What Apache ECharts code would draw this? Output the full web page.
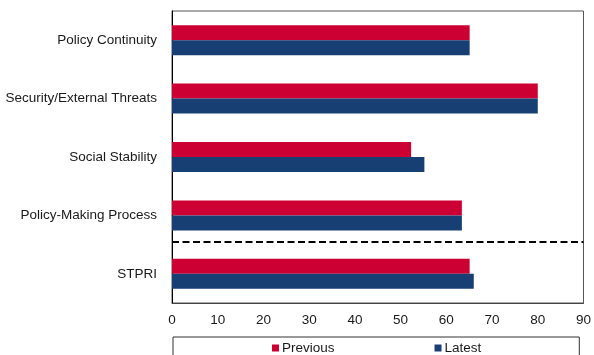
<!DOCTYPE html>
<html>
<head>
<meta charset="utf-8">
<style>
  html, body { margin: 0; padding: 0; background: #fff; }
  #chart { width: 594px; height: 355px; }
</style>
<script src="https://cdn.jsdelivr.net/npm/echarts@6/dist/echarts.min.js"></script>
</head>
<body>
<div id="chart"></div>
<script>
// Risk index components, top to bottom
const categories = [
  'Policy Continuity',
  'Security/External Threats',
  'Social Stability',
  'Policy-Making Process',
  'STPRI'
];
const previousValues = [65.1, 80.0, 52.3, 63.4, 65.1];
const latestValues = [65.1, 80.0, 55.2, 63.4, 66.0];
const seriesNames = ['Previous', 'Latest'];
// Separator between the sub-indices and the composite index (value-axis units, 0..5 from bottom)
const separatorLevel = [1.05];

const FONT = '"Liberation Sans", Arial, sans-serif';
const TEXT = '#1a1a1a';
const chart = echarts.init(document.getElementById('chart'), null, { renderer: 'canvas' });

chart.setOption({
  animation: false,
  textStyle: { fontFamily: FONT },
  grid: {
    left: 172, right: 7, top: 11, bottom: 52,
    show: true, borderColor: '#555', borderWidth: 1, backgroundColor: '#fff'
  },
  legend: {
    data: seriesNames,
    left: 173, top: 337,
    orient: 'horizontal',
    itemWidth: 7, itemHeight: 7, itemGap: 100,
    padding: [4, 98, 30, 99],
    borderColor: '#333', borderWidth: 1,
    icon: 'rect',
    textStyle: { fontFamily: FONT, fontSize: 13.5, color: TEXT, padding: [0, 0, 0, -2] }
  },
  xAxis: {
    type: 'value', min: 0, max: 90, interval: 10,
    axisLine: { show: true, lineStyle: { color: '#444', width: 1 } },
    axisTick: { show: false },
    splitLine: { show: false },
    axisLabel: { margin: 10, fontSize: 13.5, color: TEXT, fontFamily: FONT }
  },
  yAxis: [
    {
      type: 'category', data: categories, inverse: true,
      axisLine: { show: true, lineStyle: { color: '#000', width: 1 } },
      axisTick: { show: false },
      axisLabel: { margin: 15, fontSize: 13.5, color: TEXT, fontFamily: FONT }
    },
    {
      type: 'value', min: 0, max: 5, show: false,
      axisLine: { show: false }, splitLine: { show: false }
    }
  ],
  series: [
    {
      name: seriesNames[0], type: 'bar', data: previousValues,
      barWidth: 15, barGap: '0%',
      itemStyle: { color: '#CC0033' }
    },
    {
      name: seriesNames[1], type: 'bar', data: latestValues,
      barWidth: 15, barGap: '0%',
      itemStyle: { color: '#173F73' }
    },
    {
      name: 'separator', type: 'line', yAxisIndex: 1, data: [],
      silent: true,
      markLine: {
        silent: true, symbol: 'none',
        label: { show: false },
        lineStyle: { color: '#000', width: 2, type: [7, 3.5] },
        data: separatorLevel.map(v => ({ yAxis: v }))
      }
    }
  ]
});
</script>
</body>
</html>
